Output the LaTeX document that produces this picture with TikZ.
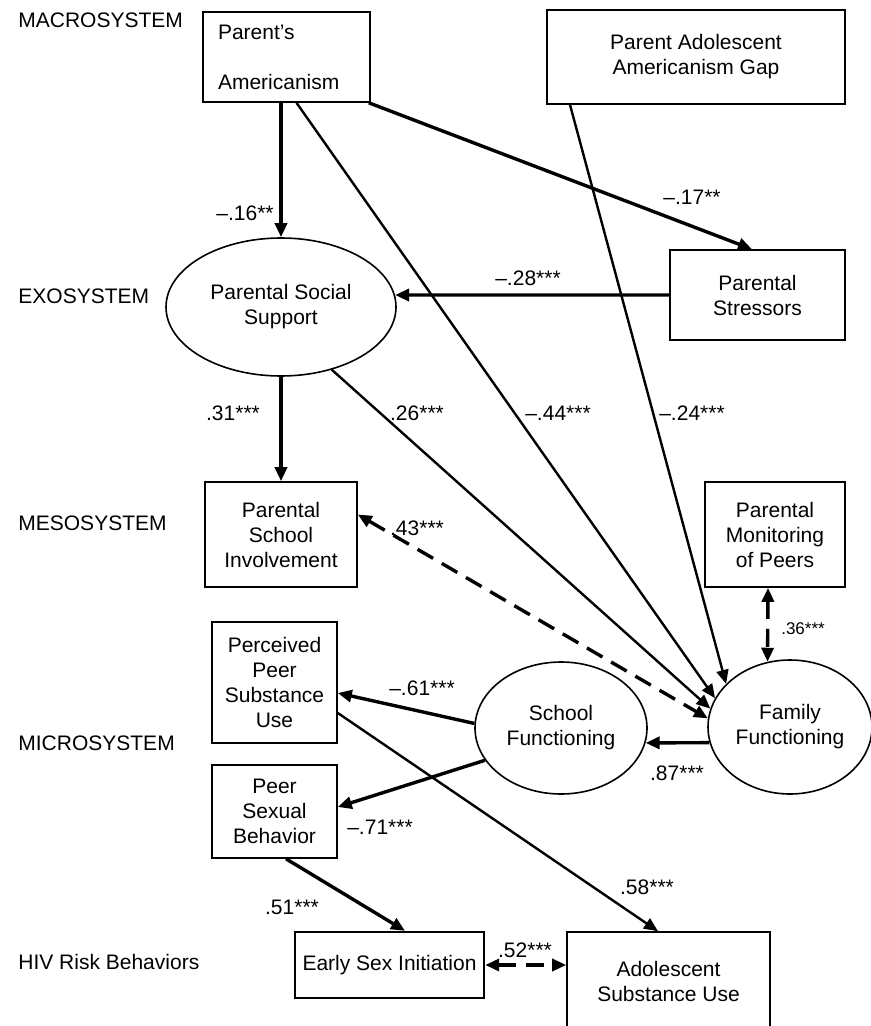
\documentclass[tikz,border=0pt]{standalone}
\usepackage{fontspec}
\setmainfont{Liberation Sans}
\usepackage{tikz}
\usetikzlibrary{shapes.geometric,arrows.meta}
\tikzset{
    box/.style={draw, line width=0.8pt, align=center, inner sep=2pt},
    oval/.style={draw, ellipse, line width=0.8pt, align=center, inner sep=0pt},
    sys/.style={anchor=west, inner sep=0pt},
    coef/.style={inner sep=1pt},
    eff/.style={line width=1.7pt, -{Triangle[length=7pt,width=6pt]}},
    thineff/.style={line width=1.2pt, -{Triangle[length=7pt,width=6pt]}},
    corr/.style={line width=1.7pt, dash pattern=on 9pt off 5pt,
        {Triangle[length=7pt,width=6pt]}-{Triangle[length=7pt,width=6pt]}},
}
\begin{document}
\begin{tikzpicture}[x=0.5pt, y=-0.5pt, font=\fontsize{10.5}{12.5}\selectfont]
\useasboundingbox (0,0) rectangle (871,1026);

\node[sys] (macro) at (18,20) {MACROSYSTEM};
\node[sys] (exo) at (18,296) {EXOSYSTEM};
\node[sys] (meso) at (18,523) {MESOSYSTEM};
\node[sys] (micro) at (18,743) {MICROSYSTEM};
\node[sys] (hiv) at (18,962) {HIV Risk Behaviors};

\node[box, minimum width=83.5pt, minimum height=45pt, text width=68.5pt, align=left, inner xsep=7.5pt] (pa) at (286.5,57) {Parent’s\\[12.5pt]Americanism};
\node[box, minimum width=149pt, minimum height=47pt] (gap) at (696,57) {Parent Adolescent\\Americanism Gap};
\node[box, minimum width=87.5pt, minimum height=45pt] (ps) at (757.5,295) {Parental\\Stressors};
\node[oval, minimum width=115pt, minimum height=69pt] (pss) at (281,307) {Parental Social\\Support};
\node[box, minimum width=76pt, minimum height=52.5pt] (psi) at (281,534.5) {Parental\\School\\Involvement};
\node[box, minimum width=70pt, minimum height=52.5pt] (pmp) at (775,534.5) {Parental\\Monitoring\\of Peers};
\node[box, minimum width=62.5pt, minimum height=60.5pt] (ppsu) at (274.5,682.5) {Perceived\\Peer\\Substance\\Use};
\node[box, minimum width=62.5pt, minimum height=46.5pt] (psb) at (274.5,811.5) {Peer\\Sexual\\Behavior};
\node[oval, minimum width=86pt, minimum height=66pt] (sf) at (561,728) {School\\Functioning};
\node[oval, minimum width=82pt, minimum height=67pt] (ff) at (790,727) {Family\\Functioning};
\node[box, line width=1.2pt, minimum width=94.5pt, minimum height=33pt] (esi) at (389.5,965) {Early Sex Initiation};
\node[box, minimum width=101.5pt, minimum height=49pt] (asu) at (668.5,981) {Adolescent\\Substance Use};

\draw[eff] (pa.south -| pss.north) -- (pss.north);
\draw[thineff] ([xshift=5pt]pa.south) -- (ff.159);
\draw[eff] ([xshift=-1pt]pa.south east) -- ([xshift=-2.75pt]ps.north);
\draw[thineff] ([xshift=-63pt]gap.south) -- (ff.146);
\draw[eff] (ps.west) -- (pss.6);
\draw[eff] (pss.south) -- (psi.north);
\draw[thineff] (pss.-51) -- (ff.167);
\draw[corr] ([yshift=10pt]psi.east) -- (ff.174);
\draw[corr] ([xshift=-3.5pt]pmp.south) -- (ff.109);
\draw[eff] (sf.177) -- ([yshift=-5.25pt]ppsu.east);
\draw[eff] (ff.191) -- (sf.-10);
\draw[eff] (sf.203) -- ([yshift=2.25pt]psb.east);
\draw[thineff] ([yshift=-15.25pt]ppsu.east) -- ([xshift=-5.25pt]asu.north);
\draw[eff] ([xshift=5.75pt]psb.south) -- ([xshift=7.75pt]esi.north);
\draw[corr] (esi.east) -- (esi.east -| asu.west);

\node[coef] (c16) at (245,213) {–.16**};
\node[coef] (c17) at (692,197) {–.17**};
\node[coef] (c28) at (528,278) {–.28***};
\node[coef] (c31) at (233,413) {.31***};
\node[coef] (c26) at (417,413) {.26***};
\node[coef] (c44) at (558,413) {–.44***};
\node[coef] (c24) at (692,413) {–.24***};
\node[coef] (c43) at (417,528) {.43***};
\node[coef, font=\fontsize{8.5}{10}\selectfont] (c36) at (803,629) {.36***};
\node[coef] (c61) at (422,688) {–.61***};
\node[coef] (c87) at (677,773) {.87***};
\node[coef] (c71) at (380,827) {–.71***};
\node[coef] (c58) at (647,887) {.58***};
\node[coef] (c51) at (292,907) {.51***};
\node[coef] (c52) at (525,950) {.52***};
\end{tikzpicture}
\end{document}
